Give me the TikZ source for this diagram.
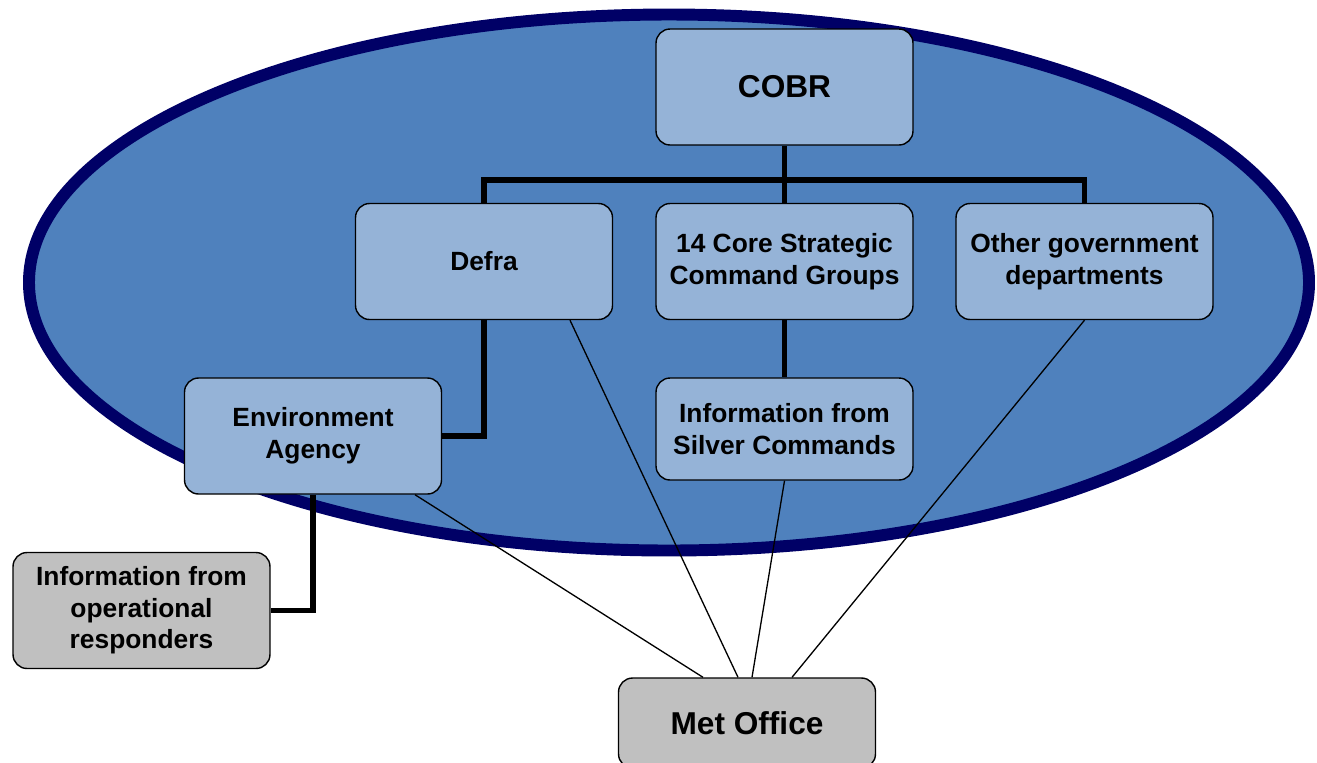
\documentclass[tikz,border=0pt]{standalone}
\usepackage{fontspec}
\setmainfont{Liberation Sans}
\usetikzlibrary{calc}
\definecolor{ovalblue}{HTML}{4F81BD}
\definecolor{ovalrim}{HTML}{000066}
\definecolor{boxblue}{HTML}{95B3D7}
\definecolor{boxgrey}{HTML}{C0C0C0}

\begin{document}
\begin{tikzpicture}[x=0.02cm, y=-0.02cm,
  unit/.style={draw=black, line width=0.8pt, rounded corners=0.28cm, fill=boxblue, align=center,
    inner sep=2pt, minimum width=5.14cm, minimum height=2.32cm, font=\fontsize{15}{18}\selectfont\bfseries},
  outside/.style={unit, fill=boxgrey},
  big/.style={font=\fontsize{18}{21}\selectfont\bfseries},
  chain/.style={line width=3.2pt},
  feed/.style={line width=0.75pt}]
	\useasboundingbox (0,0) rectangle (1317,762);
	\clip (0,0) rectangle (1317,762);
	% the oval
	\draw[fill=ovalblue, draw=ovalrim, line width=6.8pt] (669,282.5) ellipse [x radius=640, y radius=268];
	% boxes
	\node[unit, big] (cobr) at (784.5,87) {COBR};
	\node[unit] (defra) at (484,261.5) {Defra};
	\node[unit] (core) at (784.5,261.5) {14 Core Strategic\\Command Groups};
	\node[unit] (other) at (1084.5,261.5) {Other government\\departments};
	\node[unit] (ea) at (313,436) {Environment\\Agency};
	\node[unit, minimum height=2.04cm] (silver) at (784.5,429) {Information from\\Silver Commands};
	\node[outside] (op) at (141.5,610.5) {Information from\\operational\\responders};
	\node[outside, big, minimum height=1.8cm] (met) at (747,723) {Met Office};
	\coordinate (bar) at (784.5,180);
	% command lines
	\draw[chain] (cobr.south) -- (core.north);
	\draw[chain] (defra.north) |- (bar) -| (other.north);
	\draw[chain] (defra.south) |- (ea.east);
	\draw[chain] (core.south) -- (silver.north);
	\draw[chain] (ea.south) |- (op.east);
	% information to the Met Office
	\draw[feed] ($(ea.south)+(102,0)$) -- ($(met.north)+(-44,0)$);
	\draw[feed] ($(defra.south)+(86,0)$) -- ($(met.north)+(-9,0)$);
	\draw[feed] (silver.south) -- ($(met.north)+(5,0)$);
	\draw[feed] (other.south) -- ($(met.north)+(45,0)$);
\end{tikzpicture}
\end{document}
